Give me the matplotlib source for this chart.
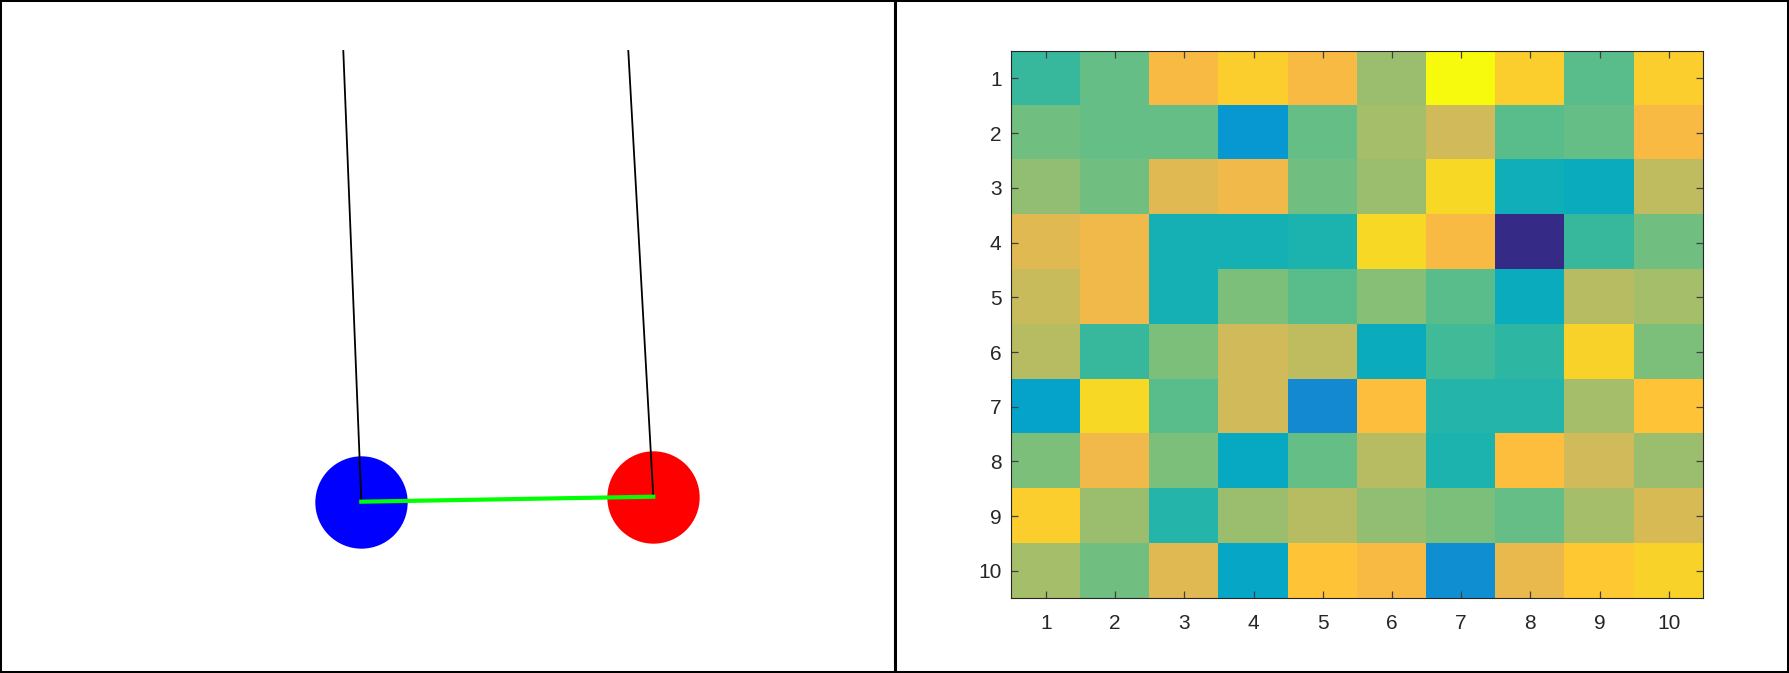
import numpy as np
import matplotlib
matplotlib.use("Agg")
from matplotlib import pyplot as plt
from matplotlib.colors import ListedColormap
from matplotlib.lines import Line2D
from matplotlib.patches import Rectangle

# ---- pendulum state (left panel), units of pivot spacing ----
pivot_x = [0.0, 1.0]
pivot_y = [0.0, 0.0]
bob_x = [0.0632, 1.0877]
bob_y = [-1.5814, -1.5639]
bob_colors = ["#0000ff", "#ff0000"]

# ---- heat map (right panel), colour index 1..64 ----
row_labels = [str(i) for i in range(1, 11)]
col_labels = [str(i) for i in range(1, 11)]
heat = np.array([
    [33, 37, 53, 57, 53, 42, 64, 57, 36, 57],
    [38, 37, 37, 21, 37, 43, 48, 36, 37, 53],
    [41, 38, 50, 52, 38, 42, 59, 28, 27, 46],
    [50, 52, 29, 29, 30, 59, 53,  1, 33, 38],
    [47, 52, 29, 39, 36, 40, 36, 27, 45, 43],
    [45, 33, 39, 48, 46, 27, 34, 32, 58, 39],
    [24, 59, 36, 48, 18, 54, 31, 31, 43, 55],
    [39, 52, 39, 26, 37, 45, 30, 54, 48, 42],
    [57, 42, 31, 42, 45, 41, 39, 37, 43, 49],
    [43, 38, 50, 25, 55, 53, 19, 51, 56, 58],
])

# MATLAB parula, 64 entries
parula = ListedColormap([
    [0.2081, 0.1663, 0.5292], [0.2116, 0.1898, 0.5777], [0.2123, 0.2138, 0.6270], [0.2081, 0.2386, 0.6771],
    [0.1959, 0.2645, 0.7279], [0.1707, 0.2919, 0.7792], [0.1253, 0.3242, 0.8303], [0.0591, 0.3598, 0.8683],
    [0.0117, 0.3875, 0.8820], [0.0060, 0.4086, 0.8828], [0.0165, 0.4266, 0.8786], [0.0329, 0.4430, 0.8720],
    [0.0498, 0.4586, 0.8641], [0.0629, 0.4737, 0.8554], [0.0723, 0.4887, 0.8467], [0.0779, 0.5040, 0.8384],
    [0.0793, 0.5200, 0.8312], [0.0749, 0.5375, 0.8263], [0.0641, 0.5570, 0.8240], [0.0488, 0.5772, 0.8228],
    [0.0343, 0.5966, 0.8199], [0.0265, 0.6137, 0.8135], [0.0239, 0.6287, 0.8038], [0.0231, 0.6418, 0.7913],
    [0.0228, 0.6535, 0.7768], [0.0267, 0.6642, 0.7607], [0.0384, 0.6743, 0.7436], [0.0590, 0.6838, 0.7254],
    [0.0843, 0.6928, 0.7062], [0.1133, 0.7015, 0.6859], [0.1453, 0.7098, 0.6646], [0.1801, 0.7177, 0.6424],
    [0.2178, 0.7250, 0.6193], [0.2586, 0.7317, 0.5954], [0.3022, 0.7376, 0.5712], [0.3482, 0.7424, 0.5473],
    [0.3953, 0.7459, 0.5244], [0.4420, 0.7481, 0.5033], [0.4871, 0.7491, 0.4840], [0.5300, 0.7491, 0.4661],
    [0.5709, 0.7485, 0.4494], [0.6099, 0.7473, 0.4337], [0.6473, 0.7456, 0.4188], [0.6834, 0.7435, 0.4044],
    [0.7184, 0.7411, 0.3905], [0.7525, 0.7384, 0.3768], [0.7858, 0.7356, 0.3633], [0.8185, 0.7327, 0.3498],
    [0.8507, 0.7299, 0.3360], [0.8824, 0.7274, 0.3217], [0.9139, 0.7258, 0.3063], [0.9450, 0.7261, 0.2886],
    [0.9739, 0.7314, 0.2666], [0.9938, 0.7455, 0.2403], [0.9990, 0.7653, 0.2164], [0.9955, 0.7861, 0.1967],
    [0.9880, 0.8066, 0.1794], [0.9789, 0.8271, 0.1633], [0.9697, 0.8481, 0.1475], [0.9626, 0.8705, 0.1309],
    [0.9589, 0.8949, 0.1132], [0.9598, 0.9218, 0.0948], [0.9661, 0.9514, 0.0755], [0.9763, 0.9831, 0.0538],
])

plt.rcParams["font.family"] = ["Liberation Sans", "DejaVu Sans"]

fig = plt.figure(figsize=(17.89, 6.73), dpi=100)

# ---- left: pendulum ----
ax1 = fig.add_axes([0, 0, 893 / 1789, 1])
for bx, by, c in zip(bob_x, bob_y, bob_colors):
    ax1.plot(bx, by, "o", color=c, markersize=66.5, markeredgewidth=0)
for px, py, bx, by in zip(pivot_x, pivot_y, bob_x, bob_y):
    ax1.plot([px, bx], [py, by], color="black", linewidth=1.3)
ax1.plot(bob_x, bob_y, color="#00ff00", linewidth=3.0)
ax1.set_xlim(-1.2046, 1.9288)
ax1.set_ylim(-2.1825, 0.1789)
ax1.axis("off")

# ---- right: heat map ----
ax2 = fig.add_axes([1011.3 / 1789, 74.7 / 673, 692 / 1789, 547.3 / 673])
ax2.imshow(heat, cmap=parula, vmin=0.5, vmax=64.5, aspect="auto",
           interpolation="nearest", extent=(0.5, 10.5, 10.5, 0.5))
ax2.set_xticks(range(1, 11))
ax2.set_xticklabels(col_labels)
ax2.set_yticks(range(1, 11))
ax2.set_yticklabels(row_labels)
ax2.tick_params(axis="both", direction="in", length=5.3, width=0.9, color="#404040",
                labelcolor="#262626", labelsize=15, top=True, right=True)
ax2.tick_params(axis="x", pad=11)
ax2.tick_params(axis="y", pad=7)
for s in ax2.spines.values():
    s.set_color("#262626")
    s.set_linewidth(0.8)

# ---- panel borders ----
fig.add_artist(Rectangle((0, 0), 1, 1, transform=fig.transFigure, fill=False,
                         edgecolor="black", linewidth=2.9))
fig.add_artist(Line2D([894.5 / 1789, 894.5 / 1789], [0, 1], transform=fig.transFigure,
                      color="black", linewidth=2.2))

fig.savefig("out.png", dpi=100)
